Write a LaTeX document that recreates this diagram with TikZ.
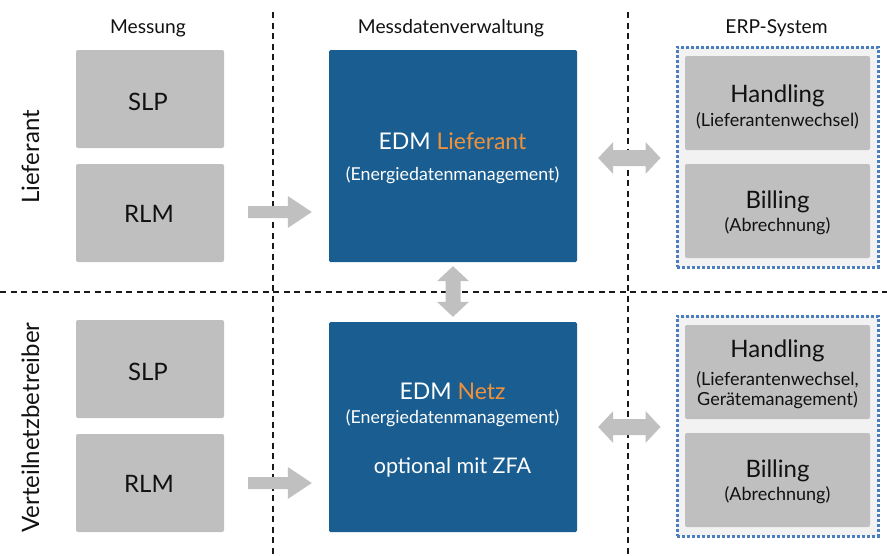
\documentclass[tikz,border=0pt]{standalone}
\usepackage{fontspec}
\setmainfont{Lato}
\usetikzlibrary{calc}
\definecolor{boxgray}{HTML}{BFBFBF}
\definecolor{arrgray}{HTML}{C0C0C0}
\definecolor{edmblue}{HTML}{1A5E91}
\definecolor{edmorange}{HTML}{F0913A}
\definecolor{dotblue}{HTML}{4A7EC1}
\definecolor{erpbg}{HTML}{F2F2F2}
\definecolor{txt}{HTML}{111111}
\newcommand\fs[1]{\fontsize{#1}{#1}\selectfont}
% single block arrow: start, end, head length, head half width, shaft half width
\newcommand\blockarrow[5]{%
  \fill[arrgray] ($(#1)!#5!90:(#2)$) -- ($(#2)!#3!(#1)!#5!-90:(#1)$) -- ($(#2)!#3!(#1)!#4!-90:(#1)$) -- (#2)
    -- ($(#2)!#3!(#1)!#4!90:(#1)$) -- ($(#2)!#3!(#1)!#5!90:(#1)$) -- ($(#1)!#5!-90:(#2)$) -- cycle;}
% double block arrow
\newcommand\dblarrow[5]{%
  \fill[arrgray] (#1) -- ($(#1)!#3!(#2)!#4!90:(#2)$) -- ($(#1)!#3!(#2)!#5!90:(#2)$)
    -- ($(#2)!#3!(#1)!#5!-90:(#1)$) -- ($(#2)!#3!(#1)!#4!-90:(#1)$) -- (#2)
    -- ($(#2)!#3!(#1)!#4!90:(#1)$) -- ($(#2)!#3!(#1)!#5!90:(#1)$)
    -- ($(#1)!#3!(#2)!#5!-90:(#2)$) -- ($(#1)!#3!(#2)!#4!-90:(#2)$) -- cycle;}
\tikzset{
  grid/.style={line width=1.4pt, dash pattern=on 6pt off 4.5pt, black!90},
  graybox/.style={fill=boxgray, rounded corners=2pt, inner sep=0pt, draw=none},
  edmbox/.style={fill=edmblue, rounded corners=1.5pt, inner sep=0pt, draw=none, minimum width=248pt},
  erpframe/.style={fill=erpbg, draw=dotblue, line width=3pt, dash pattern=on 2.6pt off 2.4pt, inner sep=0pt, minimum width=201pt, minimum height=220pt},
  erpbox/.style={graybox, minimum width=185pt, minimum height=94pt},
  mbox/.style={graybox, minimum width=148pt, minimum height=98pt},
  big/.style={anchor=base, text=txt, font=\fs{24}, inner sep=0pt},
  small/.style={anchor=base, text=txt, font=\fs{18}, inner sep=0pt},
  head/.style={anchor=base, text=txt, font=\fs{19.2}, inner sep=0pt},
  side/.style={anchor=base, text=txt, font=\fs{24}, inner sep=0pt, rotate=90},
  wbig/.style={anchor=base, text=white, font=\fs{23}, inner sep=0pt},
  wsmall/.style={anchor=base, text=white, font=\fs{17.8}, inner sep=0pt},
}
\begin{document}
\begin{tikzpicture}[x=1pt,y=-1pt]
\useasboundingbox (0,0) rectangle (887,555);
% grid lines
\coordinate (v1t) at (273,12); \coordinate (v1b) at (273,555);
\coordinate (v2t) at (628,12); \coordinate (v2b) at (628,555);
\coordinate (hl) at (0,292); \coordinate (hr) at (887,292);
\draw[grid] (v1t) -- (v1b);
\draw[grid] (v2t) -- (v2b);
\draw[grid] (hl) -- (hr);
% headers
\node[head] (h1) at (148,33) {Messung};
\node[head] (h2) at (451,33) {Messdatenverwaltung};
\node[head] (h3) at (776.5,33) {ERP-System};
% side labels
\node[side] (s1) at (39,157) {Lieferant};
\node[side] (s2) at (39,427.5) {Verteilnetzbetreiber};
% Messung boxes
\node[mbox] (slp1) at (150,99) {};
\node[mbox] (rlm1) at (150,213) {};
\node[mbox] (slp2) at (150,369) {};
\node[mbox] (rlm2) at (150,483) {};
\node[big] (slp1t) at (148,110) {SLP};
\node[big] (rlm1t) at (149,222) {RLM};
\node[big] (slp2t) at (148,380) {SLP};
\node[big] (rlm2t) at (149,492) {RLM};
% EDM boxes
\node[edmbox, minimum height=212pt] (edm1) at (453,156) {};
\node[edmbox, minimum height=210pt] (edm2) at (453,427) {};
\node[wbig] (edm1a) at (452.5,149) {EDM \textcolor{edmorange}{Lieferant}};
\node[wsmall] (edm1b) at (452.5,180) {(Energiedatenmanagement)};
\node[wbig] (edm2a) at (452.5,399) {EDM \textcolor{edmorange}{Netz}};
\node[wsmall] (edm2b) at (452.5,423) {(Energiedatenmanagement)};
\node[wbig, font=\fs{21.5}] (edm2c) at (452.5,473) {optional mit ZFA};
% ERP frames
\node[erpframe] (erp1) at (777.5,157) {};
\node[erpframe] (erp2) at (777.5,426) {};
\node[erpbox] (hd1) at (777.5,103) {};
\node[erpbox] (bl1) at (777.5,211) {};
\node[erpbox] (hd2) at (777.5,372) {};
\node[erpbox] (bl2) at (777.5,480) {};
\node[big] (hd1a) at (777.5,102) {Handling};
\node[small] (hd1b) at (777.5,126) {(Lieferantenwechsel)};
\node[big] (bl1a) at (777.5,208) {Billing};
\node[small] (bl1b) at (777.5,231) {(Abrechnung)};
\node[big] (hd2a) at (777.5,357) {Handling};
\node[small] (hd2b) at (777.5,385) {(Lieferantenwechsel,};
\node[small] (hd2c) at (777.5,405) {Gerätemanagement)};
\node[big] (bl2a) at (777.5,477) {Billing};
\node[small] (bl2b) at (777.5,500) {(Abrechnung)};
% arrows
\coordinate (a1s) at ($(rlm1.east)+(24,-1)$);
\coordinate (a1e) at ($(edm1.west |- a1s)+(-17,0)$);
\blockarrow{a1s}{a1e}{24pt}{16pt}{6pt}
\coordinate (a2s) at ($(rlm2.east)+(24,0)$);
\coordinate (a2e) at ($(edm2.west |- a2s)+(-17,0)$);
\blockarrow{a2s}{a2e}{24pt}{16pt}{6pt}
\coordinate (d1s) at ($(edm1.south)+(0,4)$);
\coordinate (d1e) at ($(edm2.north)+(0,-5)$);
\dblarrow{d1s}{d1e}{15pt}{16pt}{7.5pt}
\coordinate (d2s) at ($(edm1.east)+(21,2)$);
\coordinate (d2e) at ($(erp1.west |- d2s)+(-15,0)$);
\dblarrow{d2s}{d2e}{15pt}{16pt}{8pt}
\coordinate (d3s) at ($(edm2.east)+(21,0)$);
\coordinate (d3e) at ($(erp2.west |- d3s)+(-15,0)$);
\dblarrow{d3s}{d3e}{15pt}{16pt}{8pt}
\end{tikzpicture}
\end{document}
